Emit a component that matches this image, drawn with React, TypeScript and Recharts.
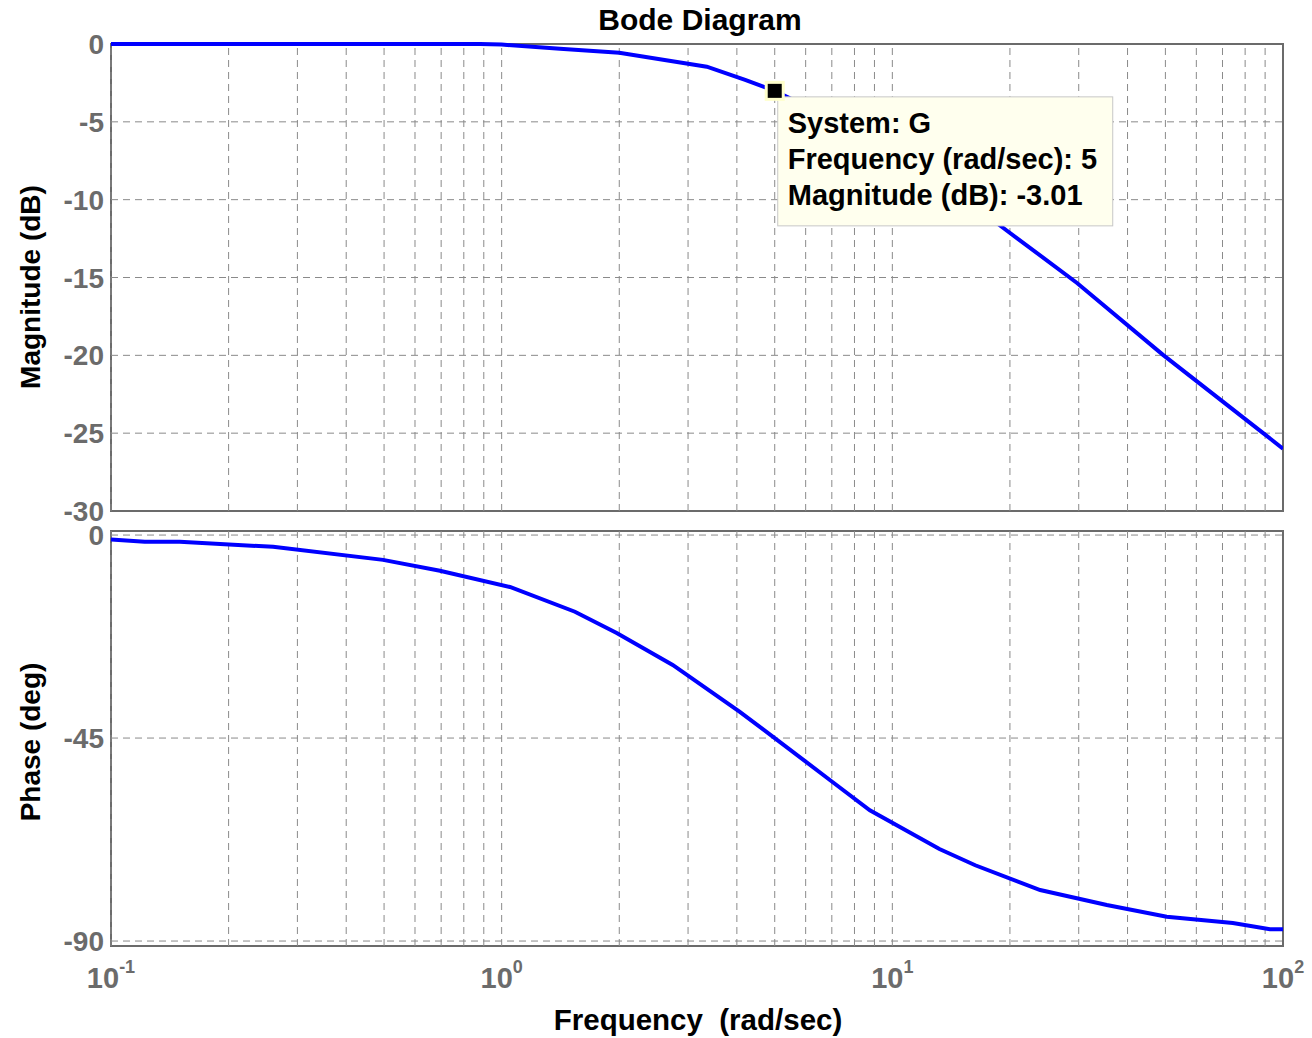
import React from "react";
import {
  LineChart,
  Line,
  XAxis,
  YAxis,
  ReferenceLine,
  ReferenceArea,
  ReferenceDot,
} from "recharts";

// magnitude curve (freq in rad/sec, dB)
const magFreq = [0.1, 0.5, 0.88, 1.0, 1.41, 2.0, 3.35, 4.2, 5.0, 7.0, 10, 14, 18.5, 29.7, 49.3, 88.8, 100];
const magDb = [0, 0, 0, -0.04, -0.3, -0.56, -1.46, -2.3, -3.01, -4.8, -7.0, -9.4, -11.5, -15.35, -19.97, -24.98, -26.0];

// phase curve (freq in rad/sec, degrees)
const phaseFreq = [0.1, 0.122, 0.15, 0.26, 0.497, 0.695, 1.05, 1.54, 1.97, 2.74, 4.07, 5.0, 6.92, 8.76, 13.2, 16.3, 23.9, 35.4, 50.4, 74.4, 92.6, 100];
const phaseDeg = [-1.0, -1.5, -1.5, -2.6, -5.5, -7.9, -11.5, -17.0, -21.7, -28.8, -39.2, -45.0, -54.3, -61.0, -69.6, -73.2, -78.7, -82.0, -84.6, -86.0, -87.4, -87.4];

const decades = [0.1, 1, 10, 100];
const decadeExp = [-1, 0, 1, 2];
const magTicks = [0, -5, -10, -15, -20, -25, -30];
const phaseTicks = [0, -45, -90];

const marker = { freq: 5, db: -3.01, system: "G" };

const gridFreqs: number[] = [];
[0.1, 1, 10].forEach((d) => {
  for (let k = 1; k <= 9; k++) gridFreqs.push(+(d * k).toPrecision(3));
});

const magData = magFreq.map((f, i) => ({ f, v: magDb[i] }));
const phaseData = phaseFreq.map((f, i) => ({ f, v: phaseDeg[i] }));

const font = '"Liberation Sans", Arial, sans-serif';
const tickGrey = "#6b6b6b";
const gridColor = "#8a8a8a";
const boxColor = "#6b6b6b";

function YTick(props: any) {
  const { x, y, payload } = props;
  return (
    <text
      x={x}
      y={y}
      dy="0.36em"
      textAnchor="end"
      fontFamily={font}
      fontWeight="bold"
      fontSize={28}
      fill={tickGrey}
    >
      {payload.value}
    </text>
  );
}

function XTick(props: any) {
  const { x, y, payload } = props;
  const exp = decadeExp[decades.indexOf(payload.value)];
  return (
    <text
      x={x}
      y={y + 42}
      textAnchor="middle"
      fontFamily={font}
      fontWeight="bold"
      fontSize={29}
      fill={tickGrey}
    >
      10
      <tspan dy={-15} fontSize={18}>
        {exp}
      </tspan>
    </text>
  );
}

function Marker(props: any) {
  const { cx, cy } = props;
  const lines = [
    `System: ${marker.system}`,
    `Frequency (rad/sec): ${marker.freq}`,
    `Magnitude (dB): ${marker.db}`,
  ];
  return (
    <g>
      <rect x={cx + 3} y={cy + 6} width={335} height={129} fill="#ffffee" stroke="#c8c8c8" />
      <rect x={cx - 10} y={cy - 10} width={20} height={20} fill="#ffffcc" />
      <rect x={cx - 7} y={cy - 7} width={14} height={14} fill="#000" />
      {lines.map((t, i) => (
        <text
          key={t}
          x={cx + 13}
          y={cy + 42 + i * 36}
          fontFamily={font}
          fontWeight="bold"
          fontSize={29}
          fill="#000"
        >
          {t}
        </text>
      ))}
    </g>
  );
}

function gridLines(yTicks: number[]) {
  return [
    ...gridFreqs.map((f) => (
      <ReferenceLine key={"x" + f} x={f} stroke={gridColor} strokeDasharray="7 5" strokeWidth={1} />
    )),
    ...yTicks.map((v) => (
      <ReferenceLine key={"y" + v} y={v} stroke={gridColor} strokeDasharray="7 5" strokeWidth={1} />
    )),
  ];
}

export default function App() {
  return (
    <div style={{ position: "absolute", left: 0, top: 0, width: 1312, height: 1038, background: "#fff" }}>
      <div style={{ position: "absolute", left: 0, top: 0 }}>
        <LineChart width={1312} height={530} data={magData} margin={{ top: 44, right: 29, bottom: 19, left: 0 }}>
          <XAxis dataKey="f" type="number" scale="log" domain={[0.1, 100]} allowDataOverflow hide />
          <YAxis
            type="number"
            domain={[-30, 0]}
            ticks={magTicks}
            width={111}
            axisLine={false}
            tickLine={false}
            tickSize={0}
            tickMargin={7}
            tick={<YTick />}
            interval={0}
          />
          {gridLines(magTicks.slice(1, -1))}
          <ReferenceArea x1={0.1} x2={100} y1={-30} y2={0} fill="none" stroke={boxColor} strokeWidth={2} />
          <Line dataKey="v" type="linear" stroke="#0000ff" strokeWidth={4} dot={false} isAnimationActive={false} />
          <ReferenceDot x={marker.freq} y={marker.db} shape={<Marker />} />
        </LineChart>
      </div>
      <div style={{ position: "absolute", left: 0, top: 511 }}>
        <LineChart width={1312} height={527} data={phaseData} margin={{ top: 20, right: 29, bottom: 32, left: 0 }}>
          <XAxis
            dataKey="f"
            type="number"
            scale="log"
            domain={[0.1, 100]}
            allowDataOverflow
            ticks={decades}
            interval={0}
            height={60}
            axisLine={false}
            tickLine={false}
            tickSize={0}
            tickMargin={0}
            tick={<XTick />}
          />
          <YAxis
            type="number"
            domain={[-91.1, 0.9]}
            allowDataOverflow
            ticks={phaseTicks}
            width={111}
            axisLine={false}
            tickLine={false}
            tickSize={0}
            tickMargin={7}
            tick={<YTick />}
            interval={0}
          />
          {gridLines(phaseTicks)}
          <ReferenceArea x1={0.1} x2={100} y1={-91.1} y2={0.9} fill="none" stroke={boxColor} strokeWidth={2} />
          <Line dataKey="v" type="linear" stroke="#0000ff" strokeWidth={4} dot={false} isAnimationActive={false} />
        </LineChart>
      </div>
      <svg width={1312} height={1038} style={{ position: "absolute", left: 0, top: 0, pointerEvents: "none" }}>
        <text x={700} y={30} textAnchor="middle" fontFamily={font} fontWeight="bold" fontSize={30} fill="#000">
          Bode Diagram
        </text>
        <text
          x={698}
          y={1030}
          textAnchor="middle"
          fontFamily={font}
          fontWeight="bold"
          fontSize={29.5}
          fill="#000"
          style={{ whiteSpace: "pre" }}
        >
          {"Frequency  (rad/sec)"}
        </text>
        <text
          x={40}
          y={287}
          transform="rotate(-90 40 287)"
          textAnchor="middle"
          fontFamily={font}
          fontWeight="bold"
          fontSize={28}
          fill="#000"
        >
          Magnitude (dB)
        </text>
        <text
          x={40}
          y={742}
          transform="rotate(-90 40 742)"
          textAnchor="middle"
          fontFamily={font}
          fontWeight="bold"
          fontSize={28}
          fill="#000"
        >
          Phase (deg)
        </text>
      </svg>
    </div>
  );
}
